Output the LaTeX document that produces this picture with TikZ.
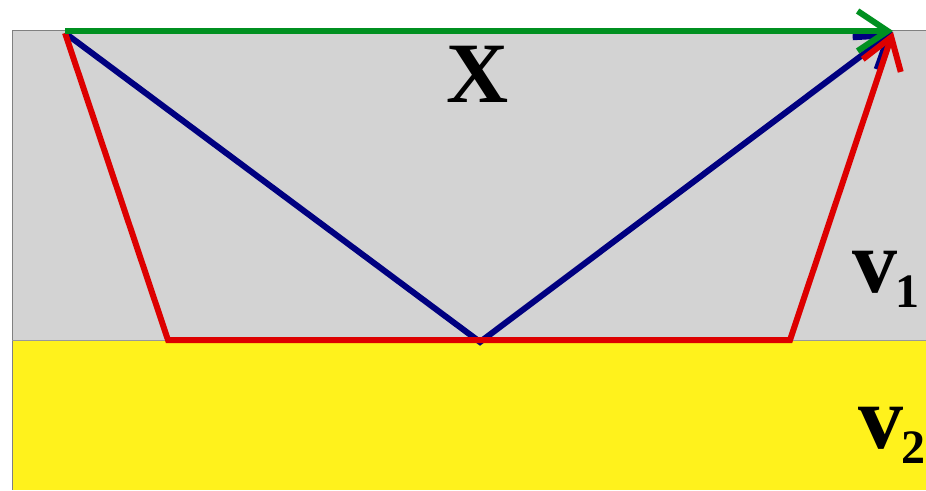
\documentclass[tikz,border=0pt]{standalone}
\usepackage{fontspec}
\setmainfont{Liberation Serif}
\usetikzlibrary{arrows.meta}
\definecolor{layergray}{HTML}{D3D3D3}
\definecolor{layeryellow}{HTML}{FFF21C}
\definecolor{rayred}{HTML}{DD0000}
\definecolor{rayblue}{HTML}{000080}
\definecolor{raygreen}{HTML}{009020}
\tikzset{
  ray/.style={line width=6pt, line join=miter},
  barb/.style={-{Straight Barb[length=30pt,width=40pt,line width=6pt]}},
  lbl/.style={inner sep=0pt, anchor=base west},
}
\newcommand{\lowsub}[1]{\kern-2pt\raisebox{-15pt}{\fontsize{48}{48}\selectfont #1}}
\begin{document}
\begin{tikzpicture}[x=1pt,y=-1pt]
\useasboundingbox (0,0) rectangle (926,490);
\fill[white] (0,0) rectangle (926,490);
\fill[layergray] (12,30) rectangle (926,340);
\fill[layeryellow] (12,340) rectangle (926,490);
\draw[gray, line width=1pt] (926,30) -- (12,30) -- (12,490);
\draw[gray!80, line width=1pt] (12,340) -- (926,340);
\coordinate (S) at (65,33);
\coordinate (R) at (893,32);
\coordinate (B1) at (168,340);
\coordinate (B2) at (790,340);
\coordinate (M) at (480,342);
\coordinate (G1) at (65,31);
\coordinate (G2) at (893,31);
\draw[ray, rayblue, barb] (S) -- (M) -- (R);
\draw[ray, rayred, barb] (S) -- (B1) -- (B2) -- (R);
\draw[ray, raygreen, barb] (G1) -- (G2);
\node[lbl, font=\bfseries\fontsize{86}{86}\selectfont] (X) at (446,102) {X};
\node[lbl, font=\bfseries\fontsize{90}{90}\selectfont] (V1) at (852,292) {v\lowsub{1}};
\node[lbl, font=\bfseries\fontsize{90}{90}\selectfont] (V2) at (858,448) {v\lowsub{2}};
\end{tikzpicture}
\end{document}
